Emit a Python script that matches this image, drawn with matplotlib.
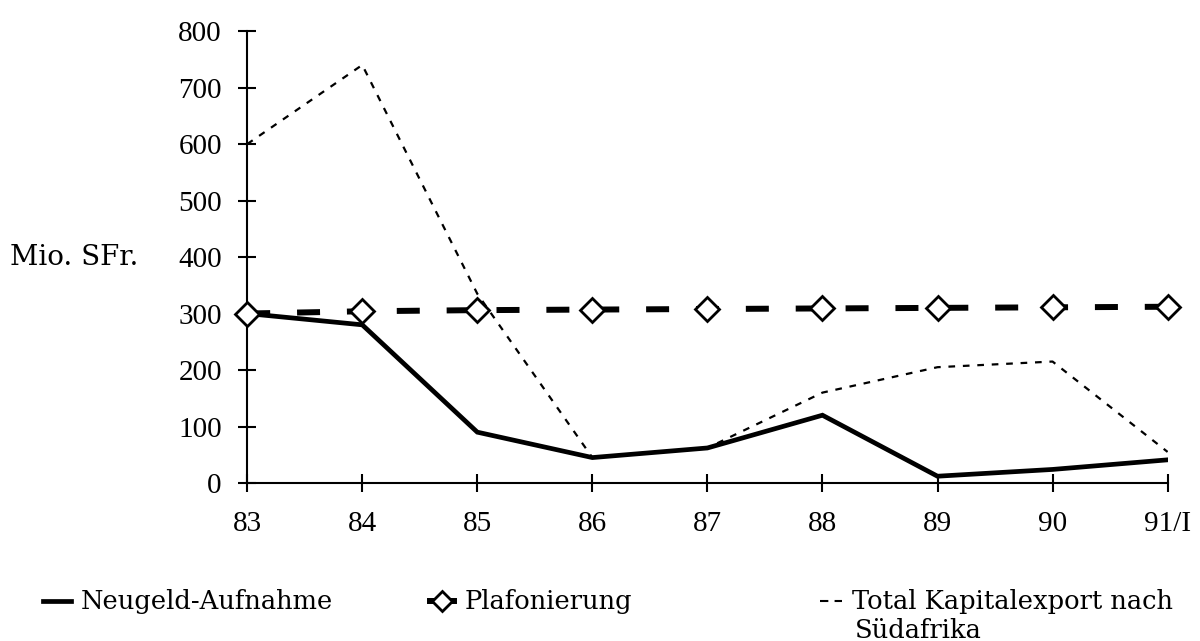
import matplotlib.pyplot as plt
from matplotlib.lines import Line2D
from matplotlib.transforms import blended_transform_factory

# Daten (Mio. SFr.)
jahre = ["83", "84", "85", "86", "87", "88", "89", "90", "91/I"]
neugeld = [300, 280, 90, 45, 62, 120, 12, 24, 41]
plafonierung = [300, 304, 306, 307, 308, 309, 310, 311, 312]
kapitalexport = [600, 740, 335, 45, 62, 160, 205, 215, 55]
y_ticks = [0, 100, 200, 300, 400, 500, 600, 700, 800]

plt.rcParams["font.family"] = ["Liberation Serif", "DejaVu Serif"]
txt_font = ["DejaVu Serif"]

fig = plt.figure(figsize=(12, 6.41), dpi=100)
ax = fig.add_axes([0.206, 0.2465, 0.767, 0.705])

x = list(range(len(jahre)))

ax.plot(x, kapitalexport, color="black", lw=1.6, dashes=(3, 3.5), zorder=2)
ax.plot(x, neugeld, color="black", lw=3.4, solid_joinstyle="miter", zorder=3)
ax.plot(x, plafonierung, color="black", lw=4.3, dashes=(3.85, 4.5),
        marker="D", markersize=12, markerfacecolor="white",
        markeredgecolor="black", markeredgewidth=2, clip_on=False, zorder=4)

ax.set_xlim(0, 8)
ax.set_ylim(0, 800)
ax.set_xticks(x)
ax.set_xticklabels(jahre)
ax.set_yticks(y_ticks)

for s in ["top", "right"]:
    ax.spines[s].set_visible(False)
for s in ["left", "bottom"]:
    ax.spines[s].set_linewidth(1.5)

ax.tick_params(axis="both", direction="inout", length=12.5, width=1.5,
               labelsize=21)
ax.tick_params(axis="y", pad=12)
ax.tick_params(axis="x", pad=14)

# Achsentitel links auf Höhe der 400
trans = blended_transform_factory(fig.transFigure, ax.transData)
ax.text(0.008, 400, "Mio. SFr.", transform=trans, va="center", ha="left",
        fontsize=20, family=txt_font)

# Legende in drei getrennten Teilen
h1 = Line2D([], [], color="black", lw=3.4)
h2 = Line2D([], [], color="black", lw=4.3, marker="D", markersize=10,
            markerfacecolor="white", markeredgewidth=2, markevery=[1])
h3 = Line2D([], [], color="black", lw=1.5, dashes=(4, 3))

row_y = 1 - 602 / 641
common = dict(frameon=False, handletextpad=0.38, loc="center left",
              borderpad=0, borderaxespad=0,
              prop={"family": txt_font, "size": 18.5})
fig.legend([h1], ["Neugeld-Aufnahme"], bbox_to_anchor=(43 / 1200, row_y),
           handlelength=1.1, **common)
fig.legend([h2], ["Plafonierung"], bbox_to_anchor=(430 / 1200, row_y),
           handlelength=0.95, **common)
fig.legend([h3], ["Total Kapitalexport nach"], bbox_to_anchor=(820 / 1200, row_y),
           handlelength=0.85, **common)
fig.text(855 / 1200, 1 - 630 / 641, "Südafrika", va="center", ha="left",
         fontsize=18.5, family=txt_font)

fig.savefig("out.png", dpi=100)
